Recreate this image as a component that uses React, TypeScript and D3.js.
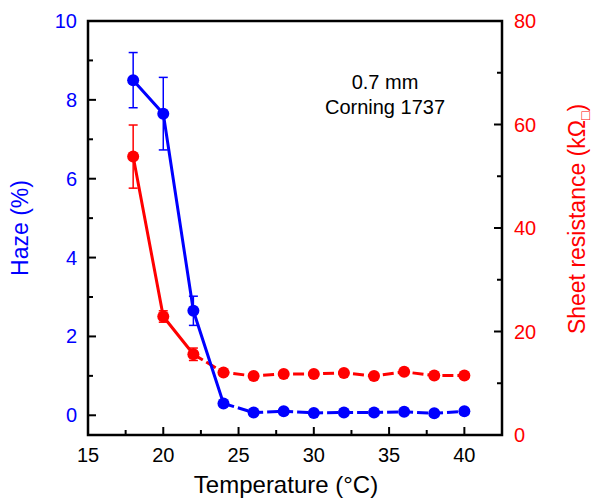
import React, { useEffect, useRef } from 'react';
import * as d3 from 'd3';

// temperatures (°C)
const temps = [18, 20, 22, 24, 26, 28, 30, 32, 34, 36, 38, 40];
// haze (%), blue, left axis
const haze = [8.5, 7.65, 2.65, 0.3, 0.07, 0.1, 0.06, 0.07, 0.07, 0.09, 0.05, 0.1];
const hazeErr = [0.7, 0.92, 0.37, 0, 0, 0, 0, 0, 0, 0, 0, 0];
// sheet resistance (kOhm/sq), red, right axis
const sheet = [53.8, 22.9, 15.6, 12.1, 11.4, 11.8, 11.8, 12.0, 11.4, 12.2, 11.5, 11.5];
const sheetErr = [6.1, 1.1, 1.2, 0, 0, 0, 0, 0, 0, 0, 0, 0];
// index where the dashed part of each curve starts
const hazeDashFrom = 3;
const sheetDashFrom = 2;

const xMajor = [15, 20, 25, 30, 35, 40];
const xMinor = [17.5, 22.5, 27.5, 32.5, 37.5];
const hazeMajor = [0, 2, 4, 6, 8, 10];
const hazeMinor = [1, 3, 5, 7, 9];
const sheetMajor = [0, 20, 40, 60, 80];
const sheetMinor = [10, 30, 50, 70];

const BLUE = '#0000ff';
const RED = '#ff0000';
const FONT = 'Liberation Sans, Arial, Helvetica, sans-serif';

export default function App() {
    const ref = useRef<SVGSVGElement>(null);

    useEffect(() => {
        const svg = d3.select(ref.current);
        svg.selectAll('*').remove();

        const left = 88, right = 502, top = 21, bottom = 435;

        const x = d3.scaleLinear().domain([15, 42.5]).range([left, right]);
        const yHaze = d3.scaleLinear().domain([-0.5, 10]).range([bottom, top]);
        const yRes = d3.scaleLinear().domain([0, 80]).range([bottom, top]);

        const g = svg.append('g');

        // frame
        g.append('rect')
            .attr('x', left).attr('y', top)
            .attr('width', right - left).attr('height', bottom - top)
            .attr('fill', 'none').attr('stroke', '#000').attr('stroke-width', 2.5);

        // inward ticks
        const tick = (x1: number, y1: number, x2: number, y2: number) =>
            g.append('line').attr('x1', x1).attr('y1', y1).attr('x2', x2).attr('y2', y2)
                .attr('stroke', '#000').attr('stroke-width', 2);

        xMajor.forEach(v => tick(x(v), bottom, x(v), bottom - 8));
        xMinor.forEach(v => tick(x(v), bottom, x(v), bottom - 5));
        hazeMajor.forEach(v => tick(left, yHaze(v), left + 8, yHaze(v)));
        hazeMinor.forEach(v => tick(left, yHaze(v), left + 5, yHaze(v)));
        sheetMajor.forEach(v => tick(right, yRes(v), right - 8, yRes(v)));
        sheetMinor.forEach(v => tick(right, yRes(v), right - 5, yRes(v)));

        // tick labels
        g.selectAll('.xl').data(xMajor).enter().append('text')
            .attr('x', d => x(d)).attr('y', bottom + 27)
            .attr('text-anchor', 'middle')
            .attr('font-family', FONT).attr('font-size', 20).attr('fill', '#000')
            .text(d => d);
        g.selectAll('.hl').data(hazeMajor).enter().append('text')
            .attr('x', left - 11).attr('y', d => yHaze(d) + 7)
            .attr('text-anchor', 'end')
            .attr('font-family', FONT).attr('font-size', 20).attr('fill', BLUE)
            .text(d => d);
        g.selectAll('.rl').data(sheetMajor).enter().append('text')
            .attr('x', right + 12).attr('y', d => yRes(d) + 7)
            .attr('text-anchor', 'start')
            .attr('font-family', FONT).attr('font-size', 20).attr('fill', RED)
            .text(d => d);

        // axis titles
        g.append('text')
            .attr('x', 286).attr('y', 493)
            .attr('text-anchor', 'middle')
            .attr('font-family', FONT).attr('font-size', 24).attr('fill', '#000')
            .text('Temperature (°C)');
        g.append('text')
            .attr('transform', 'translate(28,228) rotate(-90)')
            .attr('text-anchor', 'middle')
            .attr('font-family', FONT).attr('font-size', 23).attr('fill', BLUE)
            .text('Haze (%)');
        const rt = g.append('text')
            .attr('transform', 'translate(585,219) rotate(-90)')
            .attr('text-anchor', 'middle')
            .attr('font-family', FONT).attr('font-size', 23).attr('fill', RED);
        rt.append('tspan').text('Sheet resistance (kΩ');
        rt.append('tspan').attr('font-size', 14).attr('dy', 5).text('□');
        rt.append('tspan').attr('dy', -5).text(')');

        // annotation
        g.append('text')
            .attr('x', 385).attr('y', 89)
            .attr('text-anchor', 'middle')
            .attr('font-family', FONT).attr('font-size', 20).attr('fill', '#000')
            .text('0.7 mm');
        g.append('text')
            .attr('x', 385).attr('y', 114)
            .attr('text-anchor', 'middle')
            .attr('font-family', FONT).attr('font-size', 20).attr('fill', '#000')
            .text('Corning 1737');

        const drawSeries = (vals: number[], errs: number[], yScale: d3.ScaleLinear<number, number>,
            color: string, dashFrom: number) => {
            const pts = vals.map((v, i) => [x(temps[i]), yScale(v)] as [number, number]);
            const line = d3.line();
            g.append('path')
                .attr('d', line(pts.slice(0, dashFrom + 1)))
                .attr('fill', 'none').attr('stroke', color).attr('stroke-width', 3);
            g.append('path')
                .attr('d', line(pts.slice(dashFrom)))
                .attr('fill', 'none').attr('stroke', color).attr('stroke-width', 3)
                .attr('stroke-dasharray', '11,4');

            // error bars
            vals.forEach((v, i) => {
                if (!errs[i]) return;
                const cx = x(temps[i]);
                const y1 = yScale(v + errs[i]), y2 = yScale(v - errs[i]);
                g.append('line').attr('x1', cx).attr('x2', cx).attr('y1', y1).attr('y2', y2)
                    .attr('stroke', color).attr('stroke-width', 1.5);
                [y1, y2].forEach(yy => g.append('line')
                    .attr('x1', cx - 4.5).attr('x2', cx + 4.5).attr('y1', yy).attr('y2', yy)
                    .attr('stroke', color).attr('stroke-width', 1.5));
            });

            g.selectAll(null).data(pts).enter().append('circle')
                .attr('cx', d => d[0]).attr('cy', d => d[1]).attr('r', 6)
                .attr('fill', color);
        };

        drawSeries(sheet, sheetErr, yRes, RED, sheetDashFrom);
        drawSeries(haze, hazeErr, yHaze, BLUE, hazeDashFrom);
    }, []);

    return (
        <svg ref={ref} width={594} height={501}
            style={{ position: 'absolute', left: 0, top: 0, background: '#fff' }} />
    );
}
